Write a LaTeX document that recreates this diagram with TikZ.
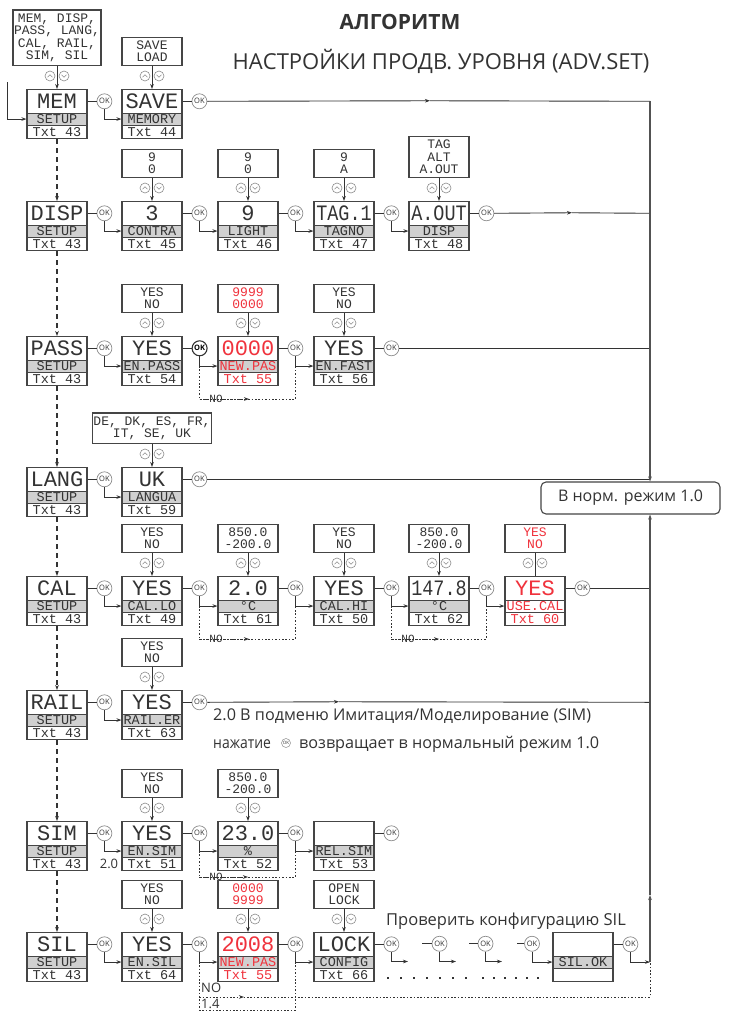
\documentclass[tikz,border=0pt]{standalone}
\usepackage{fontspec}
\setmainfont{Open Sans}
\newfontfamily\lcdf{Liberation Mono}
\usepackage{graphicx}
\usetikzlibrary{arrows.meta,positioning,calc}
\definecolor{ink}{HTML}{333333}
\definecolor{edge}{HTML}{454545}
\definecolor{band}{HTML}{D0D0D0}
\definecolor{redt}{HTML}{F0323C}
\definecolor{okgray}{HTML}{8C8C8C}
\tikzset{
 ln/.style={draw=ink, line width=0.9pt},
 arr/.style={ln, -{Stealth[length=5pt,width=3.6pt]}},
 dot/.style={draw=ink, line width=0.9pt, dash pattern=on 1.6pt off 1.8pt},
 dsh/.style={line width=1.1pt, dash pattern=on 5pt off 4pt},
 cellbase/.style={draw=edge, line width=1.1pt, minimum width=60pt, inner sep=0pt, anchor=north},
 topcell/.style={cellbase, minimum height=23.5pt, text height=14.5pt, text depth=0pt, font=\lcdf\fontsize{22}{22}\selectfont},
 bandcell/.style={cellbase, minimum height=12pt, text height=8.8pt, text depth=0pt, font=\lcdf\fontsize{13.5}{13.5}\selectfont},
 txtcell/.style={cellbase, minimum height=13.5pt, text height=8.8pt, text depth=0pt, font=\lcdf\fontsize{13.5}{13.5}\selectfont},
 optcell/.style={draw=edge, line width=1.1pt, inner xsep=1pt, inner ysep=3.5pt, align=center, font=\lcdf\fontsize{13}{12.5}\selectfont},
 okcirc/.style={circle, draw=okgray, fill=white, line width=0.7pt, minimum size=15pt, inner sep=0pt, font=\fontsize{7.5}{7.5}\selectfont, text=ink},
 okdark/.style={draw=ink, line width=1.1pt, font=\bfseries\fontsize{7.5}{7.5}\selectfont, text=black},
 symc/.style={draw=okgray, line width=0.6pt},
 nolbl/.style={inner sep=0pt, font=\lcdf\fontsize{11}{11}\selectfont, text=ink},
 sans/.style={inner sep=0pt, text=ink},
 trunkl/.style={draw=ink!85, line width=1.2pt},
}
% id, x, ytop, big, band, txt, color, bandfill
\newcommand\dispbox[8]{%
 \node[topcell,text=#7] (#1) at (#2+30,#3) {#4};
 \node[bandcell,text=#7,fill=#8] (#1b) at (#2+30,#3+23.5) {#5};
 \node[txtcell,text=#7] (#1t) at (#2+30,#3+35.5) {#6};
}
\newcommand\updn[1]{%
 \begin{scope}[shift={($(#1.north)+(0,-13)$)}]
  \draw[symc] (-7,0) circle[radius=5] (7,0) circle[radius=5];
  \draw[symc] (-9.5,1.2) -- (-7,-1.3) -- (-4.5,1.2);
  \draw[symc] (4.5,-1.2) -- (7,1.3) -- (9.5,-1.2);
 \end{scope}}
% main id, width, color, text
\newcommand\optfor[4]{%
 \node[optcell,minimum width=#2,text=#3,above=23pt of #1] (o#1) {#4};
 \updn{#1}
 \draw[arr] (o#1.south) -- (#1.north);
}
\newcommand\okstep[3][]{%
 \node[okcirc,#1,right=9pt of #2] (k#2) {OK};
 \draw[ln] (#2.east) -- (k#2.west);
 \draw[arr] (k#2.south) |- (#3b.west);
}
\newcommand\okend[1]{%
 \node[okcirc,right=9pt of #1] (k#1) {OK};
 \draw[ln] (#1.east) -- (k#1.west);
}
\begin{document}
\begin{tikzpicture}[x=1pt,y=-1pt]
\fill[white] (0,0) rectangle (732,1012);
\useasboundingbox (0,0) rectangle (732,1012);
\coordinate (trunk) at (650,0);

% titles
\node[sans,font=\bfseries\fontsize{21}{21}\selectfont] (title) at (400,22) {АЛГОРИТМ};
\node[sans,font=\fontsize{22}{22}\selectfont] (sub) at (441,61) {НАСТРОЙКИ ПРОДВ. УРОВНЯ (ADV.SET)};

% ---------------- Row 1
\dispbox{mem}{27}{89}{MEM}{SETUP}{Txt 43}{ink}{band}
\dispbox{save}{122}{89}{SAVE}{MEMORY}{Txt 44}{ink}{band}
\optfor{mem}{88}{ink}{MEM, DISP,\\PASS, LANG,\\CAL, RAIL,\\SIM, SIL}
\optfor{save}{60}{ink}{SAVE\\LOAD}
\okstep{mem}{save}
\okend{save}
\coordinate (in0) at (7,82);
\draw[arr] (in0) |- (memb.west);
\coordinate (m1) at (430,100.75);
\draw[arr] (ksave.east) -- (m1);
\draw[ln] (m1) -- (ksave.east -| trunk);

% ---------------- Row 2
\dispbox{disp}{27}{201}{DISP}{SETUP}{Txt 43}{ink}{band}
\dispbox{contra}{122}{201}{3}{CONTRA}{Txt 45}{ink}{band}
\dispbox{light}{218}{201}{9}{LIGHT}{Txt 46}{ink}{band}
\dispbox{tagno}{314}{201}{\scalebox{.84}[1]{TAG.1}}{TAGNO}{Txt 47}{ink}{band}
\dispbox{aout}{409}{201}{\scalebox{.84}[1]{A.OUT}}{DISP}{Txt 48}{ink}{band}
\optfor{contra}{60}{ink}{9\\0}
\optfor{light}{60}{ink}{9\\0}
\optfor{tagno}{60}{ink}{9\\A}
\optfor{aout}{60}{ink}{TAG\\ALT\\A.OUT}
\okstep{disp}{contra}
\okstep{contra}{light}
\okstep{light}{tagno}
\okstep{tagno}{aout}
\okend{aout}
\coordinate (m2) at (572,212.75);
\draw[arr] (kaout.east) -- (m2);
\draw[ln] (m2) -- (kaout.east -| trunk);

% ---------------- Row 3
\dispbox{pass}{27}{336}{PASS}{SETUP}{Txt 43}{ink}{band}
\dispbox{enpass}{122}{336}{YES}{EN.PASS}{Txt 54}{ink}{band}
\dispbox{newpas}{218}{336}{0000}{NEW.PAS}{Txt 55}{redt}{band}
\dispbox{enfast}{314}{336}{YES}{EN.FAST}{Txt 56}{ink}{band}
\optfor{enpass}{60}{ink}{YES\\NO}
\optfor{newpas}{60}{redt}{9999\\0000}
\optfor{enfast}{60}{ink}{YES\\NO}
\okstep{pass}{enpass}
\okstep[okdark]{enpass}{newpas}
\okstep{newpas}{enfast}
\okend{enfast}
\draw[ln] (kenfast.east) -- (kenfast.east -| trunk);
\draw[dot] (kenpass.south |- newpasb.west) -- (kenpass.south |- 0,399) -- (knewpas.south |- 0,399) -- (knewpas.south |- enfastb.west);
\draw[dot,arr] (kenpass.south |- 0,399) -- (249,399);
\node[nolbl] (no3) at (216,399) {NO};

% ---------------- Row 4
\dispbox{lang}{27}{467}{LANG}{SETUP}{Txt 43}{ink}{band}
\dispbox{langua}{122}{467}{UK}{LANGUA}{Txt 59}{ink}{band}
\optfor{langua}{108}{ink}{DE, DK, ES, FR,\\IT, SE, UK}
\okstep{lang}{langua}
\okend{langua}
\draw[ln] (klangua.east) -- (klangua.east -| trunk);

% return box
\node[draw=edge, line width=1.1pt, rounded corners=5pt, minimum width=179pt, minimum height=32pt, font=\fontsize{16}{16}\selectfont, text=ink] (norm) at (630.5,498) {В норм. режим 1.0};
\draw[trunkl,-{Stealth[length=5pt,width=3.6pt]}] (ksave.east -| trunk) -- (norm.north -| trunk);

% ---------------- Row 5
\dispbox{cal}{27}{576}{CAL}{SETUP}{Txt 43}{ink}{band}
\dispbox{callo}{122}{576}{YES}{CAL.LO}{Txt 49}{ink}{band}
\dispbox{clo}{218}{576}{2.0}{°C}{Txt 61}{ink}{band}
\dispbox{calhi}{314}{576}{YES}{CAL.HI}{Txt 50}{ink}{band}
\dispbox{chi}{409}{576}{\scalebox{.84}[1]{147.8}}{°C}{Txt 62}{ink}{band}
\dispbox{usecal}{505}{576}{YES}{USE.CAL}{Txt 60}{redt}{white}
\optfor{callo}{60}{ink}{YES\\NO}
\optfor{clo}{60}{ink}{850.0\\-200.0}
\optfor{calhi}{60}{ink}{YES\\NO}
\optfor{chi}{60}{ink}{850.0\\-200.0}
\node[optcell,minimum width=60,text=redt,above=23pt of usecal] (ousecal) {YES\\NO};
\updn{usecal}
\draw[ln] (ousecal.south) -- (usecal.north);
\okstep{cal}{callo}
\okstep{callo}{clo}
\okstep{clo}{calhi}
\okstep{calhi}{chi}
\okstep{chi}{usecal}
\okend{usecal}
\draw[ln] (kusecal.east) -- (kusecal.east -| trunk);
\draw[dot] (kcallo.south |- clob.west) -- (kcallo.south |- 0,639) -- (kclo.south |- 0,639) -- (kclo.south |- calhib.west);
\draw[dot,arr] (kcallo.south |- 0,639) -- (249,639);
\node[nolbl] (no5a) at (216,639) {NO};
\draw[dot] (kcalhi.south |- chib.west) -- (kcalhi.south |- 0,639) -- (kchi.south |- 0,639) -- (kchi.south |- usecalb.west);
\draw[dot,arr] (kcalhi.south |- 0,639) -- (439,639);
\node[nolbl] (no5b) at (408,639) {NO};

% ---------------- Row 6
\dispbox{rail}{27}{690}{RAIL}{SETUP}{Txt 43}{ink}{band}
\dispbox{railer}{122}{690}{YES}{RAIL.ER}{Txt 63}{ink}{band}
\optfor{railer}{60}{ink}{YES\\NO}
\okstep{rail}{railer}
\okend{railer}
\coordinate (m6) at (339,701.75);
\draw[arr] (krailer.east) -- (m6);
\draw[ln] (m6) -- (krailer.east -| trunk);
\node[sans,anchor=west,font=\fontsize{16.2}{16.2}\selectfont] (n1) at (213,717) {2.0 В подменю Имитация/Моделирование (SIM)};
\node[sans,anchor=west,font=\fontsize{16.2}{16.2}\selectfont] (n2) at (213,744) {\scalebox{.86}[1]{нажатие}};
\node[okcirc,minimum size=9pt,line width=0.5pt,font=\fontsize{4.5}{4.5}\selectfont] (nok) at (286,743) {OK};
\node[sans,anchor=west,font=\fontsize{16.2}{16.2}\selectfont] (n3) at (299,744) {возвращает в нормальный режим 1.0};

% ---------------- Row 7
\dispbox{sim}{27}{821}{SIM}{SETUP}{Txt 43}{ink}{band}
\dispbox{ensim}{122}{821}{YES}{EN.SIM}{Txt 51}{ink}{band}
\dispbox{pct}{218}{821}{23.0}{\%}{Txt 52}{ink}{band}
\dispbox{relsim}{314}{821}{}{REL.SIM}{Txt 53}{ink}{band}
\optfor{ensim}{60}{ink}{YES\\NO}
\optfor{pct}{60}{ink}{850.0\\-200.0}
\okstep{sim}{ensim}
\okstep{ensim}{pct}
\okstep{pct}{relsim}
\okend{relsim}
\node[sans,font=\fontsize{13}{13}\selectfont] (two) at (109,864) {2.0};
\draw[dot] (kensim.south |- pctb.west) -- (kensim.south |- 0,877) -- (kpct.south |- 0,877) -- (kpct.south |- relsimb.west);
\draw[dot,arr] (kensim.south |- 0,877) -- (248,877);
\node[nolbl] (no7) at (216,877) {NO};

% ---------------- Row 8
\dispbox{sil}{27}{932}{SIL}{SETUP}{Txt 43}{ink}{band}
\dispbox{ensil}{122}{932}{YES}{EN.SIL}{Txt 64}{ink}{band}
\dispbox{pas8}{218}{932}{2008}{NEW.PAS}{Txt 55}{redt}{band}
\dispbox{config}{314}{932}{LOCK}{CONFIG}{Txt 66}{ink}{band}
\dispbox{silok}{553}{932}{}{SIL.OK}{}{ink}{band}
\optfor{ensil}{60}{ink}{YES\\NO}
\optfor{pas8}{60}{redt}{0000\\9999}
\optfor{config}{60}{ink}{OPEN\\LOCK}
\okstep{sil}{ensil}
\okstep{ensil}{pas8}
\okstep{pas8}{config}
\okend{config}
\node[sans,anchor=base west,font=\fontsize{16.5}{16.5}\selectfont] (chk) at (386,925) {Проверить конфигурацию SIL};
\coordinate (s1) at (408,961.5);
\draw[arr] (kconfig.south) |- (s1);
\node[okcirc] (q2) at (439.5,943.75) {OK};
\node[okcirc] (q3) at (485.5,943.75) {OK};
\node[okcirc] (q4) at (532,943.75) {OK};
\coordinate (q2l) at (422,943.75);
\coordinate (q3l) at (469,943.75);
\coordinate (q4l) at (517,943.75);
\coordinate (s2) at (456,961.5);
\coordinate (s3) at (502,961.5);
\draw[ln] (q2l) -- (q2.west);
\draw[ln] (q3l) -- (q3.west);
\draw[ln] (q4l) -- (q4.west);
\draw[arr] (q2.south) |- (s2);
\draw[arr] (q3.south) |- (s3);
\draw[arr] (q4.south) |- (silokb.west);
\okend{silok}
\draw[arr] (ksilok.south) |- (silokb.west -| trunk);
\foreach \i in {0,...,6} \fill[ink] (386.7+13*\i,976.7) rectangle ++(2.6,2.6);
\foreach \i in {0,...,5} \fill[ink] (481.7+11*\i,976.7) rectangle ++(2.6,2.6);
% NO / 1.4 paths
\draw[dot] (kensil.south |- pas8b.west) -- (kensil.south |- 0,1010) -- (kpas8.south |- 0,1010) -- (kpas8.south |- configb.west);
\draw[dot] (kensil.south |- 0,997) -- (650,997) -- (silokb.west -| trunk);
\draw[dot,arr] (kensil.south |- 0,997) -- (244,997);
\node[sans,anchor=west,font=\fontsize{13}{13}\selectfont] (no8) at (201,988) {NO};
\node[sans,anchor=west,font=\fontsize{13}{13}\selectfont] (one4) at (201,1004) {1.4};

% lower trunk
\coordinate (m8) at (650,895);
\draw[trunkl,-{Stealth[length=5pt,width=3.6pt]}] (silokb.west -| trunk) -- (m8);
\draw[trunkl,-{Stealth[length=5pt,width=3.6pt]}] (m8) -- (norm.south -| trunk);

% SETUP chain (dashed)
\foreach \a/\b in {mem/disp,disp/pass,pass/lang,lang/cal,cal/rail,rail/sim,sim/sil}
  \draw[arr,dsh] (\a t.south) -- (\b.north);
\end{tikzpicture}
\end{document}
